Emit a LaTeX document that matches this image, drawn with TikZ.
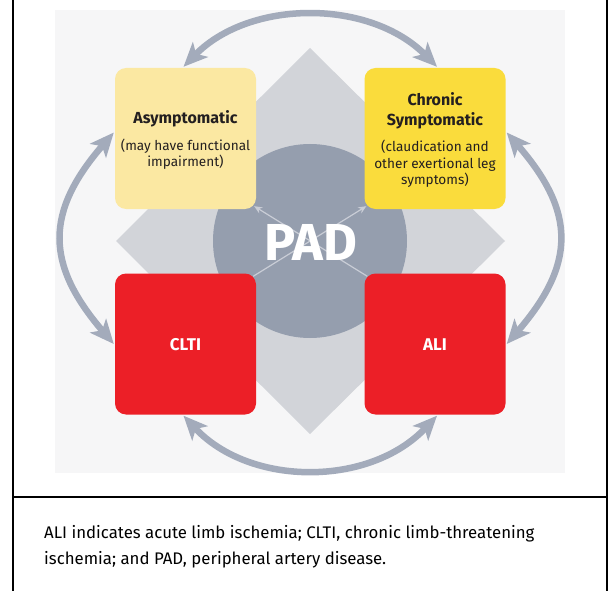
\documentclass[tikz,border=0pt]{standalone}
\usepackage{fontspec}
\setmainfont{Fira Sans}
\usetikzlibrary{arrows.meta}
\definecolor{bgpanel}{HTML}{F6F6F7}
\definecolor{diam}{HTML}{D2D4D9}
\definecolor{circ}{HTML}{959EAE}
\definecolor{arcgray}{HTML}{A3ABBB}
\definecolor{paleyel}{HTML}{FBE8A2}
\definecolor{yel}{HTML}{FADC3C}
\definecolor{redb}{HTML}{EC1F27}
\definecolor{thinc}{HTML}{C9CDD6}
\definecolor{txt}{HTML}{231F20}
\begin{document}
\begin{tikzpicture}[x=1pt,y=-1pt,
  stagebox/.style={rounded corners=11pt, minimum width=141pt, minimum height=141pt, inner sep=0pt},
  titletxt/.style={anchor=base, inner sep=0pt, text=txt, font=\bfseries\fontsize{16}{18}\selectfont},
  subtxt/.style={anchor=base, inner sep=0pt, text=txt, font=\fontsize{13.6}{16}\selectfont},
  redtxt/.style={anchor=base, inner sep=0pt, text=white, font=\bfseries\fontsize{17}{18}\selectfont},
  captxt/.style={anchor=base west, inner sep=0pt, text=black, font=\fontsize{16.8}{18}\selectfont},
  cycarrow/.style={arcgray, line width=6.5pt, {Stealth[length=24pt,width=21pt,inset=6pt]}-{Stealth[length=24pt,width=21pt,inset=6pt]}},
  thinarrow/.style={thinc, line width=1.2pt, -{Stealth[length=8pt,width=7pt]}},
  frameline/.style={black, line width=2pt}
]
\useasboundingbox (0,0) rectangle (608,591);
% background panel, diamond, circle
\fill[bgpanel] (55,10) rectangle (565,473);
\fill[diam] (310,48) -- (505,241) -- (310,434) -- (116,241) -- cycle;
\fill[circ] (310,241) circle[radius=97];
% stage boxes
\node[stagebox, fill=paleyel] (asym) at (185.5,138.5) {};
\node[stagebox, fill=yel] (chron) at (435,138.5) {};
\node[stagebox, fill=redb] (clti) at (185.5,344) {};
\node[stagebox, fill=redb] (ali) at (435,344) {};
% box texts
\node[titletxt] (t1) at (185.5,124) {Asymptomatic};
\node[subtxt] (s1a) at (185.5,150) {(may have functional};
\node[subtxt] (s1b) at (185.5,166.5) {impairment)};
\node[titletxt] (t2a) at (435,106) {Chronic};
\node[titletxt] (t2b) at (435,125.5) {Symptomatic};
\node[subtxt] (s2a) at (435,152) {(claudication and};
\node[subtxt] (s2b) at (435,168.5) {other exertional leg};
\node[subtxt] (s2c) at (435,185) {symptoms)};
\node[redtxt] (t3) at (185.5,350) {CLTI};
\node[redtxt] (t4) at (435,350) {ALI};
% thin crossing arrows
\draw[thinarrow] ([shift={(-3,3)}]clti.north east) -- ([shift={(2,-3)}]chron.south west);
\draw[thinarrow] ([shift={(3,3)}]ali.north west) -- ([shift={(-2,-3)}]asym.south east);
% PAD
\node[text=white, inner sep=0pt, anchor=base, font=\bfseries\fontsize{52}{54}\selectfont] (pad) at (311,260) {PAD};
% cycle arrows
\draw[cycarrow] ([shift={(-2,-1)}]asym.north) .. controls (250,-1) and (370,-1) .. ([shift={(2,-1)}]chron.north);
\draw[cycarrow] ([shift={(-2,1)}]clti.south) .. controls (250,487) and (370,487) .. ([shift={(2,1)}]ali.south);
\draw[cycarrow] ([shift={(-1,-6)}]asym.west) .. controls (45,212) and (45,264) .. ([shift={(-1,0)}]clti.west);
\draw[cycarrow] ([shift={(1,-6)}]chron.east) .. controls (576,212) and (576,264) .. ([shift={(1,0)}]ali.east);
% frame and caption
\draw[frameline] (13,0) -- (13,591);
\draw[frameline] (606.5,0) -- (606.5,591);
\draw[frameline] (13,497) -- (607,497);
\node[captxt] (cap1) at (44,538) {ALI indicates acute limb ischemia; CLTI, chronic limb-threatening};
\node[captxt] (cap2) at (44,564) {ischemia; and PAD, peripheral artery disease.};
\end{tikzpicture}
\end{document}
